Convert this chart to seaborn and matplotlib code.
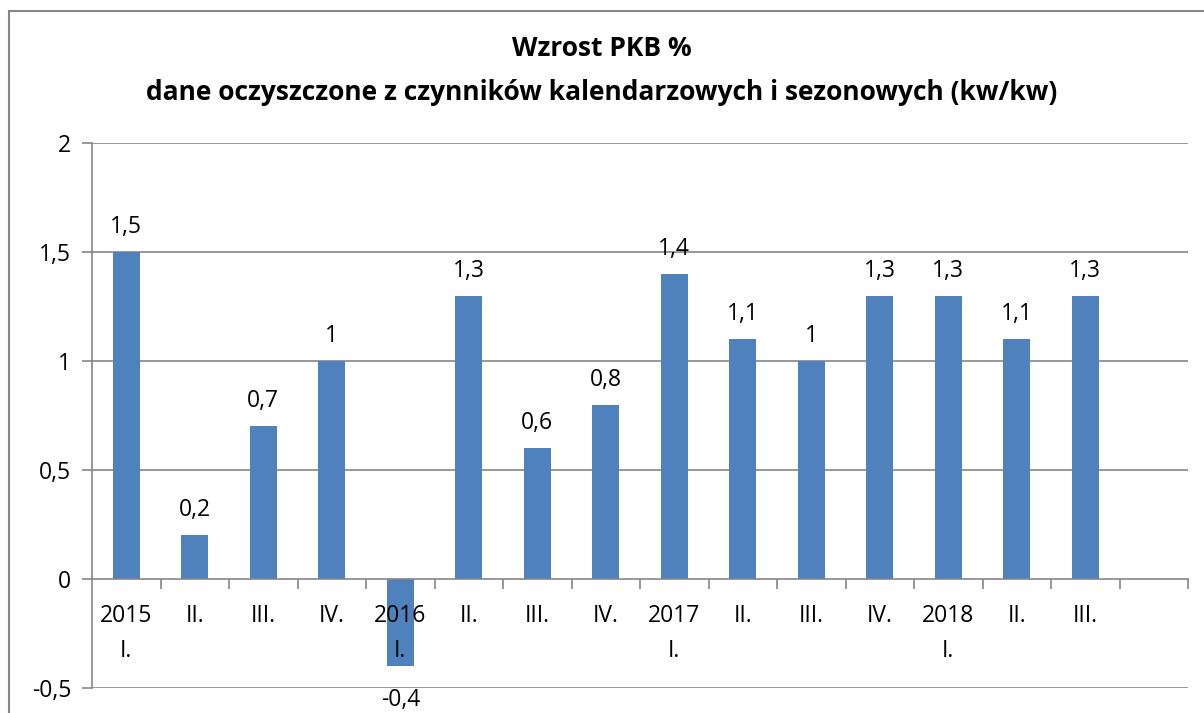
import matplotlib
matplotlib.use('Agg')
import matplotlib.pyplot as plt
import seaborn as sns
import pandas as pd
from matplotlib.patches import Rectangle
from matplotlib.ticker import FixedLocator

# quarterly GDP growth, seasonally adjusted (q/q)
quarters = ['2015\nI.', 'II.', 'III.', 'IV.', '2016\nI.', 'II.', 'III.', 'IV.',
            '2017\nI.', 'II.', 'III.', 'IV.', '2018\nI.', 'II.', 'III.']
values = [1.5, 0.2, 0.7, 1.0, -0.4, 1.3, 0.6, 0.8, 1.4, 1.1, 1.0, 1.3, 1.3, 1.1, 1.3]
value_labels = ['1,5', '0,2', '0,7', '1', '-0,4', '1,3', '0,6', '0,8',
                '1,4', '1,1', '1', '1,3', '1,3', '1,1', '1,3']
y_ticks = [-0.5, 0, 0.5, 1, 1.5, 2]
y_tick_labels = ['-0,5', '0', '0,5', '1', '1,5', '2']

sns.set_style('white')
plt.rcParams['font.family'] = ['Open Sans', 'DejaVu Sans']
plt.rcParams['text.color'] = 'black'
plt.rcParams['ytick.labelcolor'] = 'black'

grid_col = '#868686'
bar_col = '#4F81BD'
fs = 16.5

fig = plt.figure(figsize=(12.04, 7.13), dpi=100)
ax = fig.add_axes([92 / 1204, 1 - 688 / 713, (1188 - 92) / 1204, (688 - 143) / 713])

df = pd.DataFrame({'q': [f'q{i}' for i in range(len(values))], 'v': values})
sns.barplot(data=df, x='q', y='v', color=bar_col, width=0.4, saturation=1,
            ax=ax, zorder=3, linewidth=0)

ax.set_xlim(-0.5, 15.5)
ax.set_ylim(-0.5, 2)
ax.set_xlabel('')
ax.set_ylabel('')

# horizontal gridlines
for y in y_ticks:
    if y != 0:
        ax.axhline(y, color=grid_col, lw=1.2, zorder=1)

for s in ['top', 'right']:
    ax.spines[s].set_visible(False)
ax.spines['left'].set_color(grid_col)
ax.spines['left'].set_linewidth(1.2)
ax.spines['bottom'].set_position(('data', 0))
ax.spines['bottom'].set_color(grid_col)
ax.spines['bottom'].set_linewidth(1.2)
ax.spines['bottom'].set_zorder(4)

ax.set_yticks(y_ticks)
ax.set_yticklabels(y_tick_labels, fontsize=fs, color='black')
ax.tick_params(axis='y', length=7, width=1.2, color=grid_col, pad=8, left=True)

# category labels drawn as text so they sit on top of the negative bar
ax.set_xticks(range(len(quarters)))
ax.set_xticklabels([])
ax.xaxis.set_minor_locator(FixedLocator([i + 0.5 for i in range(16)]))
ax.tick_params(axis='x', which='major', length=0)
ax.tick_params(axis='x', which='minor', length=7, width=1.2, color=grid_col, bottom=True)
for i, q in enumerate(quarters):
    ax.annotate(q, (i, 0), xytext=(0, -25), textcoords='offset pixels',
                ha='center', va='top', fontsize=fs, linespacing=1.6, zorder=6)

for i, (v, lab) in enumerate(zip(values, value_labels)):
    off = 0.06 if v >= 0 else -0.1
    ax.text(i, v + off, lab, ha='center', va='bottom' if v >= 0 else 'top',
            fontsize=fs, clip_on=False, zorder=5)

fig.text(0.5, 1 - 49 / 713, 'Wzrost PKB %', ha='center', va='center',
         fontsize=19, fontweight='bold')
fig.text(0.5, 1 - 92 / 713,
         'dane oczyszczone z czynników kalendarzowych i sezonowych (kw/kw)',
         ha='center', va='center', fontsize=19, fontweight='bold')

# outer chart border
fig.patches.append(Rectangle((9 / 1204, -0.05), 1.1, 1 - 11 / 713 + 0.05,
                             transform=fig.transFigure, fill=False,
                             edgecolor=grid_col, lw=1.5))

fig.savefig('out.png', dpi=100)
